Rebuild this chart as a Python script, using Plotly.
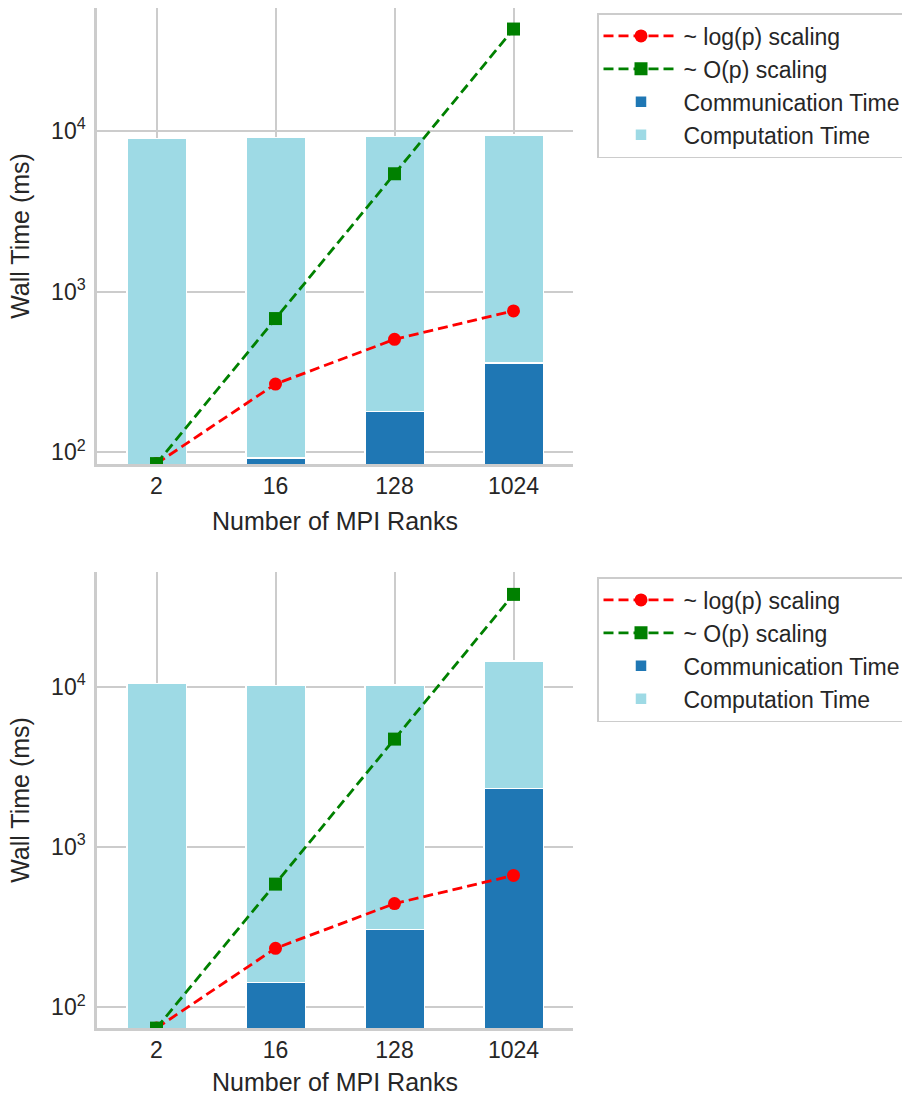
import plotly.graph_objects as go

# ---------------- data ----------------
ranks = ["2", "16", "128", "1024"]

comm_top = [10, 92, 179, 360]
comp_top = [8950, 9000, 9080, 9080]
logp_top = [85, 266, 505, 759]
op_top = [85, 680, 5420, 43150]

comm_bot = [10, 143, 305, 2320]
comp_bot = [10490, 10060, 9945, 12180]
logp_bot = [74, 233, 443, 664]
op_bot = [74, 586, 4710, 37700]

ytick_vals = [100, 1000, 10000]
ytick_text = ["10<sup>2</sup>", "10<sup>3</sup>", "10<sup>4</sup>"]

# ---------------- styling ----------------
W, H = 902, 1096
FONT = "Liberation Sans, Arial, sans-serif"
TXT = "#262626"
GRID = "#cccccc"

fig = go.Figure()

panels = [
    (comm_top, comp_top, logp_top, op_top, "x", "y", "legend"),
    (comm_bot, comp_bot, logp_bot, op_bot, "x2", "y2", "legend2"),
]

for comm, comp, logp, op, xa, ya, lg in panels:
    fig.add_trace(go.Scatter(
        x=ranks, y=logp, mode="lines+markers", name="~ log(p) scaling",
        line=dict(color="red", width=2.8, dash="10px,5px"),
        marker=dict(symbol="circle", size=13, color="red"),
        xaxis=xa, yaxis=ya, legend=lg, legendgroup=lg + "a"))
    fig.add_trace(go.Scatter(
        x=ranks, y=op, mode="lines+markers", name="~ O(p) scaling",
        line=dict(color="green", width=2.8, dash="10px,5px"),
        marker=dict(symbol="square", size=13, color="green"),
        xaxis=xa, yaxis=ya, legend=lg, legendgroup=lg + "b"))
    fig.add_trace(go.Bar(
        x=ranks, y=comm, name="Communication Time", width=0.5,
        marker=dict(color="#1f77b4", line=dict(color="white", width=1.5)),
        xaxis=xa, yaxis=ya, legend=lg, legendgroup=lg + "c"))
    fig.add_trace(go.Bar(
        x=ranks, y=comp, name="Computation Time", width=0.5,
        marker=dict(color="#9edae5", line=dict(color="white", width=1.5)),
        xaxis=xa, yaxis=ya, legend=lg, legendgroup=lg + "d"))

xdom = [97 / W, 573 / W]
ydom_top = [1 - 464 / H, 1 - 8 / H]
ydom_bot = [1 - 1028 / H, 1 - 572 / H]

xcommon = dict(
    domain=xdom, type="category", range=[-0.5, 3.5],
    showline=True, linecolor=GRID, linewidth=2.5,
    showgrid=True, gridcolor=GRID, gridwidth=2,
    zeroline=False, ticks="",
    tickfont=dict(size=23, color=TXT, family=FONT),
    title=dict(text="Number of MPI Ranks", font=dict(size=25, color=TXT, family=FONT)),
)
ycommon = dict(
    type="log",
    showline=True, linecolor=GRID, linewidth=2.5,
    showgrid=True, gridcolor=GRID, gridwidth=2,
    zeroline=False, ticks="", ticklabelstandoff=4,
    tickvals=ytick_vals, ticktext=ytick_text,
    tickfont=dict(size=23, color=TXT, family=FONT),
    title=dict(text="Wall Time (ms)", font=dict(size=25, color=TXT, family=FONT)),
)

legcommon = dict(
    xanchor="left", yanchor="top",
    bgcolor="white", bordercolor=GRID, borderwidth=1.5,
    font=dict(size=23, color=TXT, family=FONT),
    traceorder="grouped", tracegroupgap=0, itemwidth=75,
)

fig.update_layout(
    width=W, height=H,
    margin=dict(l=0, r=0, t=0, b=0, autoexpand=False),
    paper_bgcolor="white", plot_bgcolor="white",
    barmode="stack", bargap=0.5,
    font=dict(family=FONT, color=TXT),
    showlegend=True,
    xaxis=dict(anchor="y", **xcommon),
    yaxis=dict(anchor="x", domain=ydom_top, range=[1.927, 4.766], **ycommon),
    xaxis2=dict(anchor="y2", **xcommon),
    yaxis2=dict(anchor="x2", domain=ydom_bot, range=[1.870, 4.716], **ycommon),
    legend=dict(x=597 / W, y=1 - 13 / H, **legcommon),
    legend2=dict(x=597 / W, y=1 - 577 / H, **legcommon),
)

fig.write_html("out.html")
